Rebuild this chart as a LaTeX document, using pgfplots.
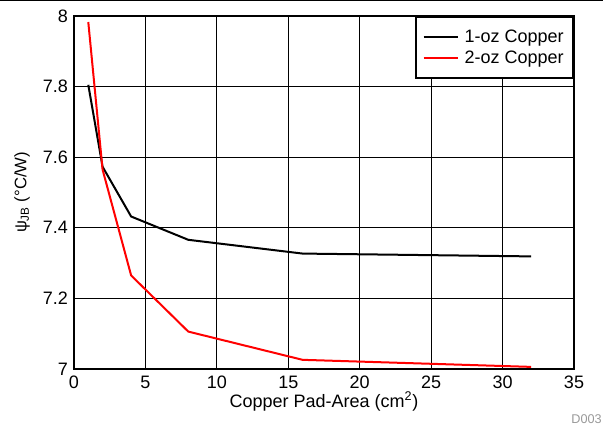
\documentclass[border=0pt]{standalone}
\usepackage{fontspec}
\setmainfont{Liberation Sans}
\usepackage{pgfplots}
\pgfplotsset{compat=1.18}
\begin{document}
\begin{tikzpicture}
\path[use as bounding box] (0,0) rectangle (452.25pt,319.5pt);
\draw[line width=0.75pt] (0,319.1pt) -- (452.25pt,319.1pt);
\begin{axis}[
  at={(55.5pt,42.75pt)}, anchor=south west,
  scale only axis, width=375pt, height=264.75pt,
  xmin=0, xmax=35, ymin=7, ymax=8,
  xtick={0,5,...,35},
  ytick={7,7.2,7.4,7.6,7.8,8},
  yticklabels={7,7.2,7.4,7.6,7.8,8},
  /pgf/number format/assume math mode=true,
  grid=major,
  major grid style={line width=0.7pt, black},
  major tick length=0pt,
  axis line style={line width=2.2pt},
  tick label style={font=\fontsize{13.5pt}{15pt}\selectfont},
  xticklabel style={yshift=-2pt},
  yticklabel style={xshift=-1pt},
  label style={font=\fontsize{13.5pt}{15pt}\selectfont},
  xlabel={Copper Pad-Area (cm\textsuperscript{2})},
  ylabel={ψ\textsubscript{JB} (°C/W)},
  xlabel style={yshift=5pt},
  ylabel style={yshift=3pt, font=\fontsize{12.5pt}{14pt}\selectfont},
  legend style={at={(1,1)}, anchor=north east, draw=black, line width=1.6pt,
    font=\fontsize{13.5pt}{15pt}\selectfont, inner xsep=5pt, inner ysep=7.5pt,
    row sep=1pt, cells={anchor=west}},
  legend cell align=left,
  legend image code/.code={\draw[#1, line width=1.5pt] (0pt,0pt) -- (25.5pt,0pt); \path (28pt,0pt);},
]
\addplot[black, line width=1.5pt] coordinates {(1,7.805) (2,7.573) (4,7.432) (8,7.366) (16,7.327) (32,7.319)};
\addlegendentry{1-oz Copper}
\addplot[red, line width=1.5pt] coordinates {(1,7.983) (2,7.565) (4,7.265) (8,7.106) (16,7.026) (32,7.006)};
\addlegendentry{2-oz Copper}
\end{axis}
\node[anchor=base east, text=black!40, font=\fontsize{9.5pt}{10pt}\selectfont, inner sep=0pt] at (451.5pt,2pt) {D003};
\end{tikzpicture}
\end{document}
